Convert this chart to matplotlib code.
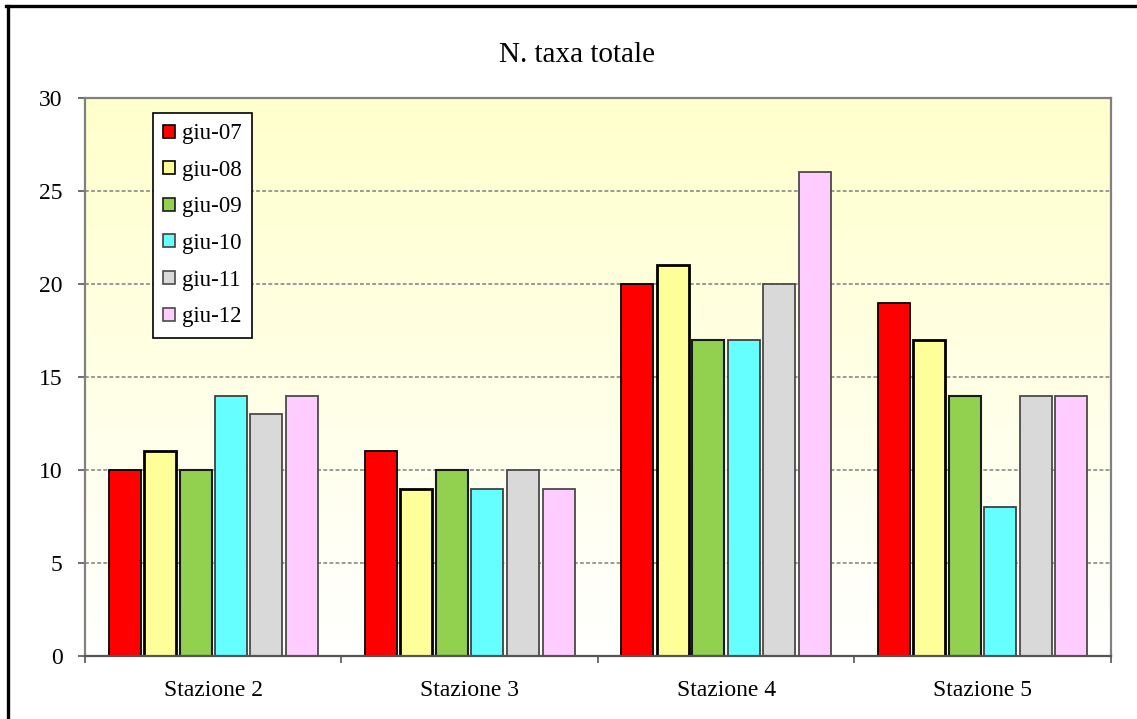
import numpy as np
import matplotlib
matplotlib.use("Agg")
import matplotlib.pyplot as plt
from matplotlib.lines import Line2D
from matplotlib.patches import Patch
from matplotlib.ticker import FixedLocator, NullFormatter

plt.rcParams['font.family'] = ['Liberation Serif', 'DejaVu Serif']

# Data
stations = ["Stazione 2", "Stazione 3", "Stazione 4", "Stazione 5"]
series_labels = ["giu-07", "giu-08", "giu-09", "giu-10", "giu-11", "giu-12"]
giu07 = [10, 11, 20, 19]
giu08 = [11, 9, 21, 17]
giu09 = [10, 10, 17, 14]
giu10 = [14, 9, 17, 8]
giu11 = [13, 10, 20, 14]
giu12 = [14, 9, 26, 14]
series_values = [giu07, giu08, giu09, giu10, giu11, giu12]
y_ticks = [0, 5, 10, 15, 20, 25, 30]

# Styling
face_colors = ["#FF0000", "#FFFF99", "#92D050", "#66FFFF", "#D9D9D9", "#FFCCFF"]
edge_colors = ["#000000", "#000000", "#1a1a1a", "#404040", "#4a4a4a", "#4a4a4a"]
edge_widths = [1.3, 2.0, 1.5, 1.3, 1.3, 1.3]

W, H = 1137, 719
fig = plt.figure(figsize=(W / 100, H / 100), dpi=100)
fig.patch.set_facecolor("white")

ax = fig.add_axes([85 / W, 1 - 656 / H, (1111 - 85) / W, (656 - 98) / H])
ax.set_xlim(0, len(stations))
ax.set_ylim(0, 30)

# Vertical gradient background: pale yellow at the top fading to white
grad = np.linspace(0, 1, 256).reshape(-1, 1)
top = np.array([1.0, 1.0, 0.80])
bottom = np.array([1.0, 1.0, 1.0])
img = bottom[None, None, :] * (1 - grad[..., None]) + top[None, None, :] * grad[..., None]
ax.imshow(img, extent=[0, len(stations), 0, 30], origin="lower", aspect="auto",
          zorder=0, interpolation="bilinear")

# Dashed gridlines
for yv in y_ticks[1:-1]:
    ax.axhline(yv, color="#7f7f7f", lw=1.1, ls=(0, (2.5, 1.5)), zorder=1)

# Bars
pitch = 35.5 / 256.5
bw = 32.0 / 256.5
x = np.arange(len(stations)) + 0.5
for i, vals in enumerate(series_values):
    offs = (i - (len(series_values) - 1) / 2) * pitch
    ax.bar(x + offs, vals, width=bw, color=face_colors[i], edgecolor=edge_colors[i],
           linewidth=edge_widths[i], zorder=3)

# Axes styling
for s in ax.spines.values():
    s.set_color("#808080")
    s.set_linewidth(1.6)
    s.set_zorder(4)
ax.spines["bottom"].set_color("#555555")

ax.set_yticks(y_ticks)
ax.set_yticklabels([str(v) for v in y_ticks])
ax.tick_params(axis="y", direction="out", length=5, width=1.2, color="#555555",
               pad=11, labelsize=17)

ax.set_xticks(x)
ax.set_xticklabels(stations)
ax.tick_params(axis="x", which="major", length=0, pad=17, labelsize=17)
ax.xaxis.set_minor_locator(FixedLocator(np.arange(len(stations) + 1)))
ax.xaxis.set_minor_formatter(NullFormatter())
ax.tick_params(axis="x", which="minor", direction="out", length=5, width=1.2, color="#555555")

# Title
fig.text(577 / W, 1 - 55 / H, "N. taxa totale", ha="center", va="center", fontsize=21)

# Legend
handles = [Patch(facecolor=face_colors[i], edgecolor=edge_colors[i], linewidth=1.2)
           for i in range(len(series_labels))]
leg = ax.legend(handles, series_labels, loc="upper left",
                bbox_to_anchor=(153 / W, 1 - 113 / H), bbox_transform=fig.transFigure,
                borderaxespad=0, fontsize=16.5, handlelength=0.5, handleheight=0.5,
                handletextpad=0.3, labelspacing=0.68, borderpad=0.45,
                fancybox=False, framealpha=1, edgecolor="#000000")
leg.get_frame().set_linewidth(1.2)
leg.set_zorder(5)

# Outer frame on left and top edges of the figure
fig.add_artist(Line2D([7.5 / W, 7.5 / W], [0, 1 - 5.5 / H], transform=fig.transFigure,
                      color="black", lw=2.4))
fig.add_artist(Line2D([6.3 / W, 1], [1 - 5.5 / H, 1 - 5.5 / H], transform=fig.transFigure,
                      color="black", lw=2.4))

fig.savefig("out.png", dpi=100)
